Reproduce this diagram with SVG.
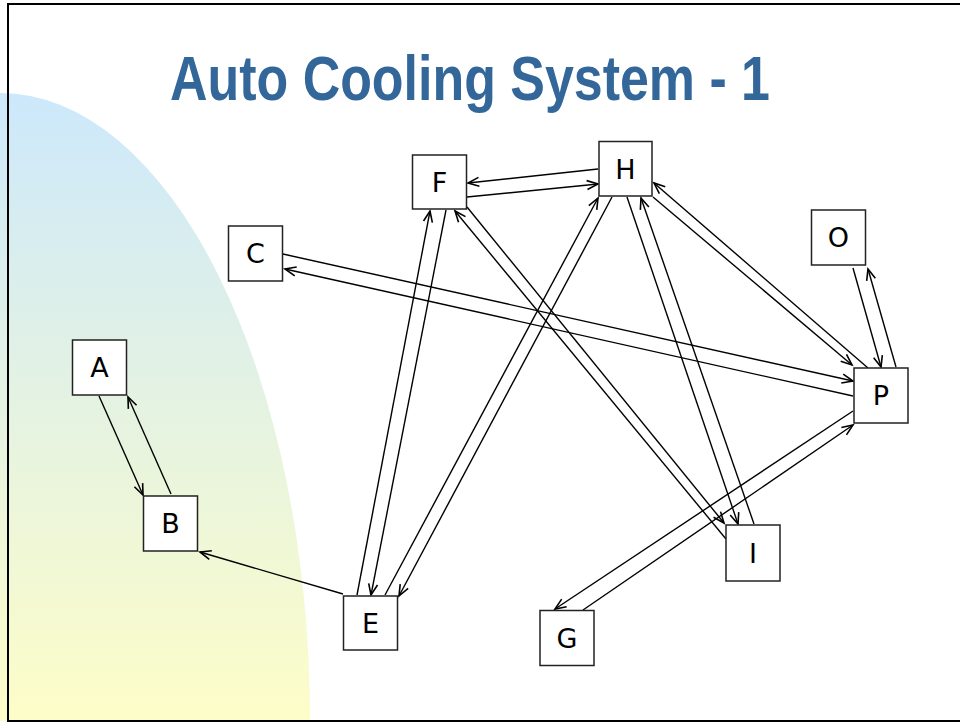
<svg xmlns="http://www.w3.org/2000/svg" width="960" height="723" viewBox="0 0 960 723">
<defs>
<linearGradient id="bg" x1="0" y1="0" x2="0" y2="1">
<stop offset="0" stop-color="#CCE8FB"/>
<stop offset="1" stop-color="#FDFDC8"/>
</linearGradient>
<marker id="ah" markerUnits="userSpaceOnUse" markerWidth="16" markerHeight="14" viewBox="-13 -7 16 14" refX="0" refY="0" orient="auto">
<path d="M-11,-4.5 L0,0 L-11,4.5" fill="none" stroke="#000" stroke-width="1.6"/>
</marker>
<style>
.n rect{fill:#fff;stroke:#222;stroke-width:1.5}
.n text{font-family:"DejaVu Sans",Verdana,sans-serif;font-size:27px;fill:#000;text-anchor:middle}
#edges line{stroke:#000;stroke-width:1.4}
#edges .a{marker-end:url(#ah)}
</style>
</defs>
<rect width="960" height="723" fill="#fff"/>
<path d="M0,93 A310,628 0 0 1 310,721 L0,721 Z" fill="url(#bg)"/>
<path d="M960,4 L8,4 L8,721 L960,721" fill="none" stroke="#000" stroke-width="2"/>
<text x="470" y="100" font-family="Liberation Sans, Arial, sans-serif" font-weight="bold" font-size="63" fill="#336699" text-anchor="middle" textLength="600" lengthAdjust="spacingAndGlyphs">Auto Cooling System - 1</text>
<g id="edges">
<line class="a" x1="99" y1="396" x2="143" y2="495"/>
<line class="a" x1="171" y1="494" x2="128" y2="397"/>
<line class="a" x1="343" y1="594" x2="200" y2="552"/>
<line class="a" x1="357" y1="595" x2="430" y2="211"/>
<line class="a" x1="446" y1="210" x2="371" y2="595"/>
<line class="a" x1="385" y1="595" x2="598" y2="198"/>
<line class="a" x1="612" y1="197" x2="399" y2="596"/>
<line class="a" x1="598" y1="169" x2="468" y2="183"/>
<line class="a" x1="467" y1="197" x2="598" y2="184"/>
<line class="a" x1="467" y1="207" x2="724" y2="523"/>
<line class="a" x1="726" y1="539" x2="455" y2="211"/>
<line class="a" x1="627" y1="197" x2="738" y2="524"/>
<line class="a" x1="754" y1="524" x2="641" y2="198"/>
<line class="a" x1="283" y1="254" x2="853" y2="381"/>
<line class="a" x1="853" y1="396" x2="285" y2="269"/>
<line class="a" x1="653" y1="197" x2="852" y2="365"/>
<line class="a" x1="868" y1="368" x2="654" y2="183"/>
<line class="a" x1="853" y1="268" x2="881" y2="367"/>
<line class="a" x1="896" y1="367" x2="868" y2="269"/>
<line class="a" x1="853" y1="411" x2="555" y2="609"/>
<line class="a" x1="583" y1="610" x2="853" y2="425"/>
</g>
<g id="A" class="n"><rect x="72.5" y="340" width="54" height="55"/><text x="99.5" y="377">A</text></g>
<g id="B" class="n"><rect x="143.5" y="496" width="54" height="55"/><text x="170.5" y="533">B</text></g>
<g id="C" class="n"><rect x="228.5" y="226" width="54" height="55"/><text x="255.5" y="263">C</text></g>
<g id="F" class="n"><rect x="412.5" y="155" width="54" height="54"/><text x="439.5" y="191.5">F</text></g>
<g id="H" class="n"><rect x="599" y="141.5" width="53" height="54.5"/><text x="625.5" y="178.5">H</text></g>
<g id="O" class="n"><rect x="811.5" y="210" width="54" height="55"/><text x="838.5" y="247">O</text></g>
<g id="P" class="n"><rect x="854" y="368" width="54" height="55"/><text x="881" y="405">P</text></g>
<g id="E" class="n"><rect x="343.5" y="596" width="54" height="54"/><text x="370.5" y="632.5">E</text></g>
<g id="G" class="n"><rect x="540" y="610.5" width="54" height="55"/><text x="567" y="647.5">G</text></g>
<g id="I" class="n"><rect x="726" y="525" width="54" height="56"/><text x="753" y="562.5" font-family="DejaVu Sans Mono, monospace">I</text></g>
</svg>
